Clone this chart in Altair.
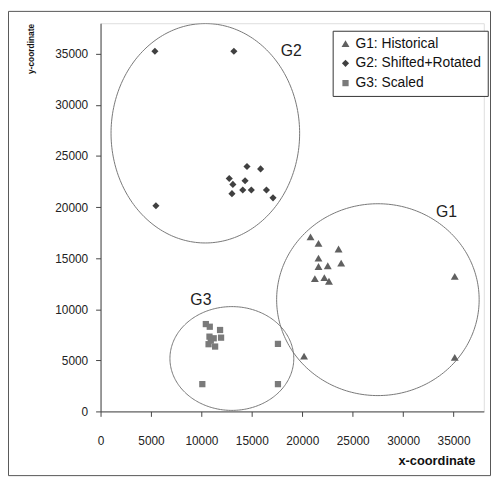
import altair as alt
import pandas as pd
import numpy as np

groups = ["G1: Historical", "G2: Shifted+Rotated", "G3: Scaled"]
group_colors = ["#606060", "#404040", "#7a7a7a"]
group_shapes = ["triangle-up", "diamond", "square"]

g1_x = [20820, 21610, 23600, 23860, 21610, 21610, 22530, 21250, 22190, 22650, 35120, 20180, 35120]
g1_y = [17090, 16450, 15900, 14520, 15000, 14190, 14260, 13000, 13100, 12740, 13220, 5420, 5290]

g2_x = [5390, 13220, 5490, 14520, 15870, 12760, 14330, 13120, 14100, 14950, 16450, 13030, 17100]
g2_y = [35260, 35260, 20130, 23970, 23740, 22800, 22580, 22220, 21680, 21680, 21680, 21320, 20910]

g3_x = [10440, 10830, 11850, 11950, 10800, 11220, 10710, 11360, 10930, 17590, 10090, 17590]
g3_y = [8550, 8290, 7970, 7220, 7320, 7160, 6580, 6350, 6930, 6610, 2670, 2670]

ell_name = ["G1", "G2", "G3"]
ell_cx = [27500, 10390, 13020]
ell_cy = [10940, 27230, 5180]
ell_rx = [10040, 9350, 6140]
ell_ry = [9390, 10740, 5080]

lbl_text = ["G1", "G2", "G3"]
lbl_x = [34300, 18900, 9950]
lbl_y = [19480, 35300, 10890]

tick_values = [0, 5000, 10000, 15000, 20000, 25000, 30000, 35000]
axis_max = 38000

pts = pd.concat([
    pd.DataFrame({"x": g1_x, "y": g1_y, "group": groups[0]}),
    pd.DataFrame({"x": g2_x, "y": g2_y, "group": groups[1]}),
    pd.DataFrame({"x": g3_x, "y": g3_y, "group": groups[2]}),
], ignore_index=True)

t = np.linspace(0, 2 * np.pi, 241)
ell_rows = []
for n, cx, cy, rx, ry in zip(ell_name, ell_cx, ell_cy, ell_rx, ell_ry):
    for i, a in enumerate(t):
        ell_rows.append({"name": n, "i": i, "x": cx + rx * np.cos(a), "y": cy + ry * np.sin(a)})
ell = pd.DataFrame(ell_rows)

lbl = pd.DataFrame({"text": lbl_text, "x": lbl_x, "y": lbl_y})

FONT = "Liberation Sans"
W, H = 388, 393
PL, PT, PR, PB = 93.7, 12.5, 7.3, 65.5

xscale = alt.Scale(domain=[0, axis_max], nice=False)
yscale = alt.Scale(domain=[0, axis_max], nice=False)

xaxis = alt.Axis(values=tick_values, format="d", grid=False, title="x-coordinate",
                 titleX=340, titleY=49.5, titleAlign="center", titleBaseline="middle",
                 titleFontSize=13, titleFontWeight="bold", titleColor="#111", titleFont=FONT,
                 labelFontSize=12, labelFont=FONT, labelColor="#222", labelPadding=20,
                 labelFlush=False, tickSize=5, tickColor="#444", domainColor="#444")
yaxis = alt.Axis(values=tick_values, format="d", grid=False, title="y-coordinate",
                 titleX=-71, titleY=25.5, titleAlign="center", titleBaseline="middle", titleAngle=270,
                 titleFontSize=8.5, titleFontWeight="bold", titleColor="#111", titleFont=FONT,
                 labelFontSize=12, labelFont=FONT, labelColor="#222", labelPadding=8,
                 labelFlush=False, tickSize=5, tickColor="#444", domainColor="#444")

ellipses = alt.Chart(ell).mark_line(color="#777", strokeWidth=1, clip=True).encode(
    x=alt.X("x:Q", scale=xscale, axis=xaxis),
    y=alt.Y("y:Q", scale=yscale, axis=yaxis),
    detail="name:N",
    order="i:Q",
)

leg = alt.Legend(title=None, orient="none", legendX=235, legendY=7.6,
                 strokeColor="#333", fillColor="white", padding=6,
                 rowPadding=6, labelFontSize=14, labelFont=FONT,
                 labelColor="#111", symbolSize=30, labelOffset=3,
                 symbolStrokeWidth=0, labelLimit=300)

points = alt.Chart(pts).mark_point(filled=True, opacity=1).encode(
    x=alt.X("x:Q", scale=xscale),
    y=alt.Y("y:Q", scale=yscale),
    color=alt.Color("group:N", scale=alt.Scale(domain=groups, range=group_colors), legend=leg),
    shape=alt.Shape("group:N", scale=alt.Scale(domain=groups, range=group_shapes), legend=leg),
    size=alt.Size("group:N", scale=alt.Scale(domain=groups, range=[64, 40, 49]), legend=None),
)

labels = alt.Chart(lbl).mark_text(fontSize=16, font=FONT, color="#222", align="center",
                                  baseline="middle").encode(
    x=alt.X("x:Q", scale=xscale),
    y=alt.Y("y:Q", scale=yscale),
    text="text:N",
)

border = alt.Chart(pd.DataFrame({"k": [0]})).mark_rect(fill=None, stroke="#555", strokeWidth=1).encode(
    x=alt.value(-PL + 0.5), x2=alt.value(W + PR - 0.5),
    y=alt.value(-PT + 0.5), y2=alt.value(H + PB - 0.5),
)

chart = alt.layer(ellipses, points, labels, border).properties(
    width=W, height=H,
    autosize=alt.AutoSizeParams(type="none"),
    padding={"left": PL, "top": PT, "right": PR, "bottom": PB},
).configure_view(stroke="#777", strokeWidth=1).configure(background="white")

chart.save("out.html", embed_options={"renderer": "svg", "actions": False})
